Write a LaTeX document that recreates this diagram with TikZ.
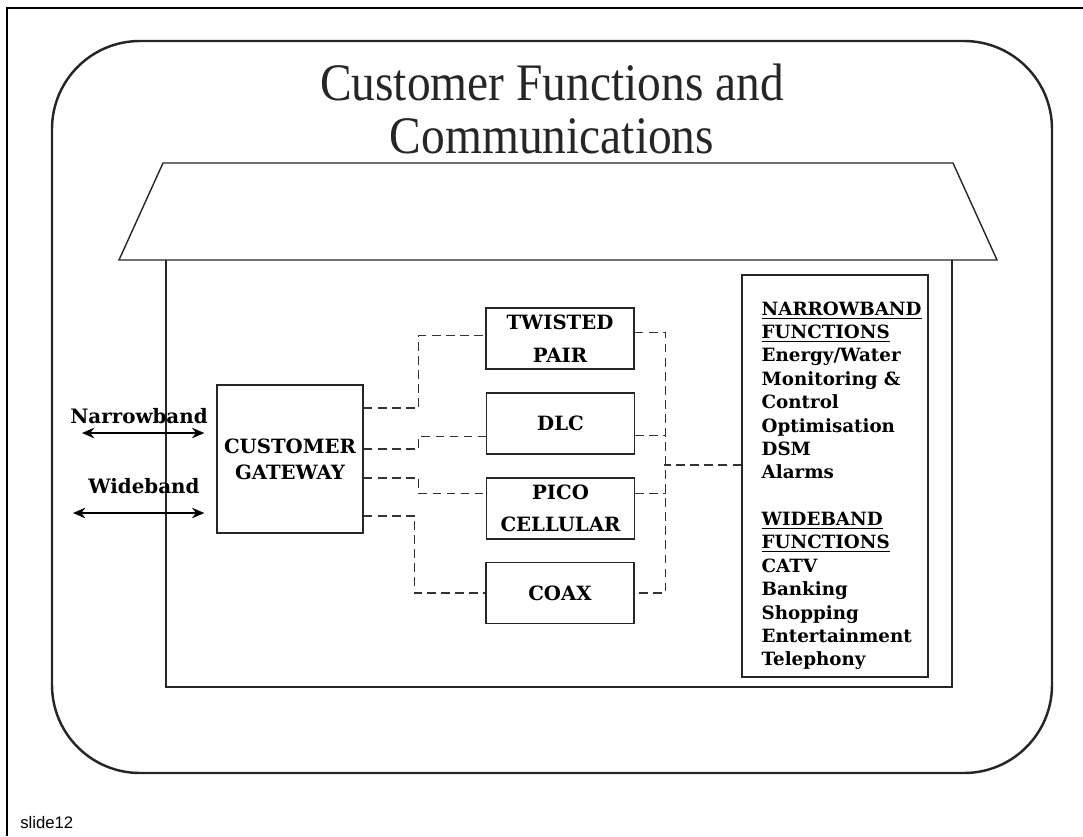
\documentclass[tikz,border=0pt]{standalone}
\usepackage{fontspec}
\usepackage{tikz}
\usetikzlibrary{arrows.meta,calc}
\newfontfamily\titlefont{Liberation Serif}
\newfontfamily\slidefont{Liberation Sans}
\newfontfamily\labelfont{DejaVu Serif}

\begin{document}
\begin{tikzpicture}[x=0.02cm,y=-0.02cm,
  box/.style={draw=black!85, line width=0.8pt, minimum width=2.96cm, minimum height=1.22cm, inner sep=0pt, align=center, font=\labelfont\bfseries\fontsize{11.2}{18.5}\selectfont},
  conn/.style={draw=black!80, line width=0.85pt, dash pattern=on 5pt off 3pt},
  band/.style={line width=0.9pt, {Stealth[length=7pt,width=6pt]}-{Stealth[length=7pt,width=6pt]}},
  title/.style={font=\titlefont\fontsize{30}{30}\selectfont, text=black!85, inner sep=0pt, anchor=base}]
\useasboundingbox (0,0) rectangle (1083,836);
\draw [line width=1.7pt] (7,836) -- (7,8) -- (1083,8);
\draw [line width=1.4pt, black!85, rounded corners=1.76cm] (52,41) rectangle (1052,773);
\node[title] (title1) at (552,100) {\scalebox{0.9}[1]{Customer Functions and}};
\node[title] (title2) at (552,153) {\scalebox{0.9}[1]{Communications}};
\draw [line width=0.8pt, black!85] (163,163) -- (953,163) -- (997,260) -- (119,260) -- cycle;
\draw [line width=0.8pt, black!85] (166,260) -- (166,687) -- (952,687) -- (952,260);

\node[box, minimum width=2.92cm, minimum height=2.96cm, font=\labelfont\bfseries\fontsize{11.2}{14.8}\selectfont] (gw) at (290,459) {CUSTOMER\\GATEWAY};
\node[box] (tp) at (560,338.5) {TWISTED\\PAIR};
\node[box] (dlc) at (560.5,423.5) {DLC};
\node[box] (pico) at (560.5,508.5) {PICO\\CELLULAR};
\node[box] (coax) at (560,593) {COAX};
\node[draw=black!85, line width=0.8pt, minimum width=3.72cm, minimum height=8.04cm] (fn) at (835,476) {};
\node[anchor=north west, inner sep=0pt, align=left, font=\labelfont\bfseries\fontsize{10.4}{13.3}\selectfont] (fnlist) at ($(fn.north west)+(20,27)$) {\underline{NARROWBAND}\\ \underline{FUNCTIONS}\\ Energy/Water\\ Monitoring \&\\ Control\\ Optimisation\\ DSM\\ Alarms\\[13.3pt] \underline{WIDEBAND}\\ \underline{FUNCTIONS}\\ CATV\\ Banking\\ Shopping\\ Entertainment\\ Telephony};

\node[font=\labelfont\bfseries\fontsize{11.3}{14}\selectfont] (nb) at (139,416) {Narrowband};
\node[font=\labelfont\bfseries\fontsize{11.3}{14}\selectfont] (wb) at (144,486) {Wideband};
\coordinate (nbend) at (82,433);
\coordinate (wbend) at (73,513);
\draw[band] (nbend) -- ($(gw.west)+(-12,-26)$);
\draw[band] (wbend) -- ($(gw.west)+(-12,54)$);

\draw[conn] ($(gw.east)+(0,-51)$) -- ++(55,0) |- ($(tp.west)+(0,-3)$);
\draw[conn] ($(gw.east)+(0,-10)$) -- ++(55,0) |- ($(dlc.west)+(0,13)$);
\draw[conn] ($(gw.east)+(0,19)$) -- ++(55,0) |- ($(pico.west)+(0,-15)$);
\draw[conn] ($(gw.east)+(0,57)$) -- ++(51,0) |- (coax.west);
\draw[conn] ($(tp.east)+(0,-6)$) -| ($(coax.east)+(31,0)$) -- (coax.east);
\draw[conn] ($(dlc.east)+(0,12)$) -- ++(31,0);
\draw[conn] ($(pico.east)+(0,-15)$) -- ++(31,0);
\draw[conn] ($(fn.west)+(0,-11)$) -- ++(-77,0);

\node[font=\slidefont\fontsize{9.5}{11}\selectfont, anchor=base west, inner sep=0pt] (slide) at (20,828) {slide12};
\end{tikzpicture}
\end{document}
